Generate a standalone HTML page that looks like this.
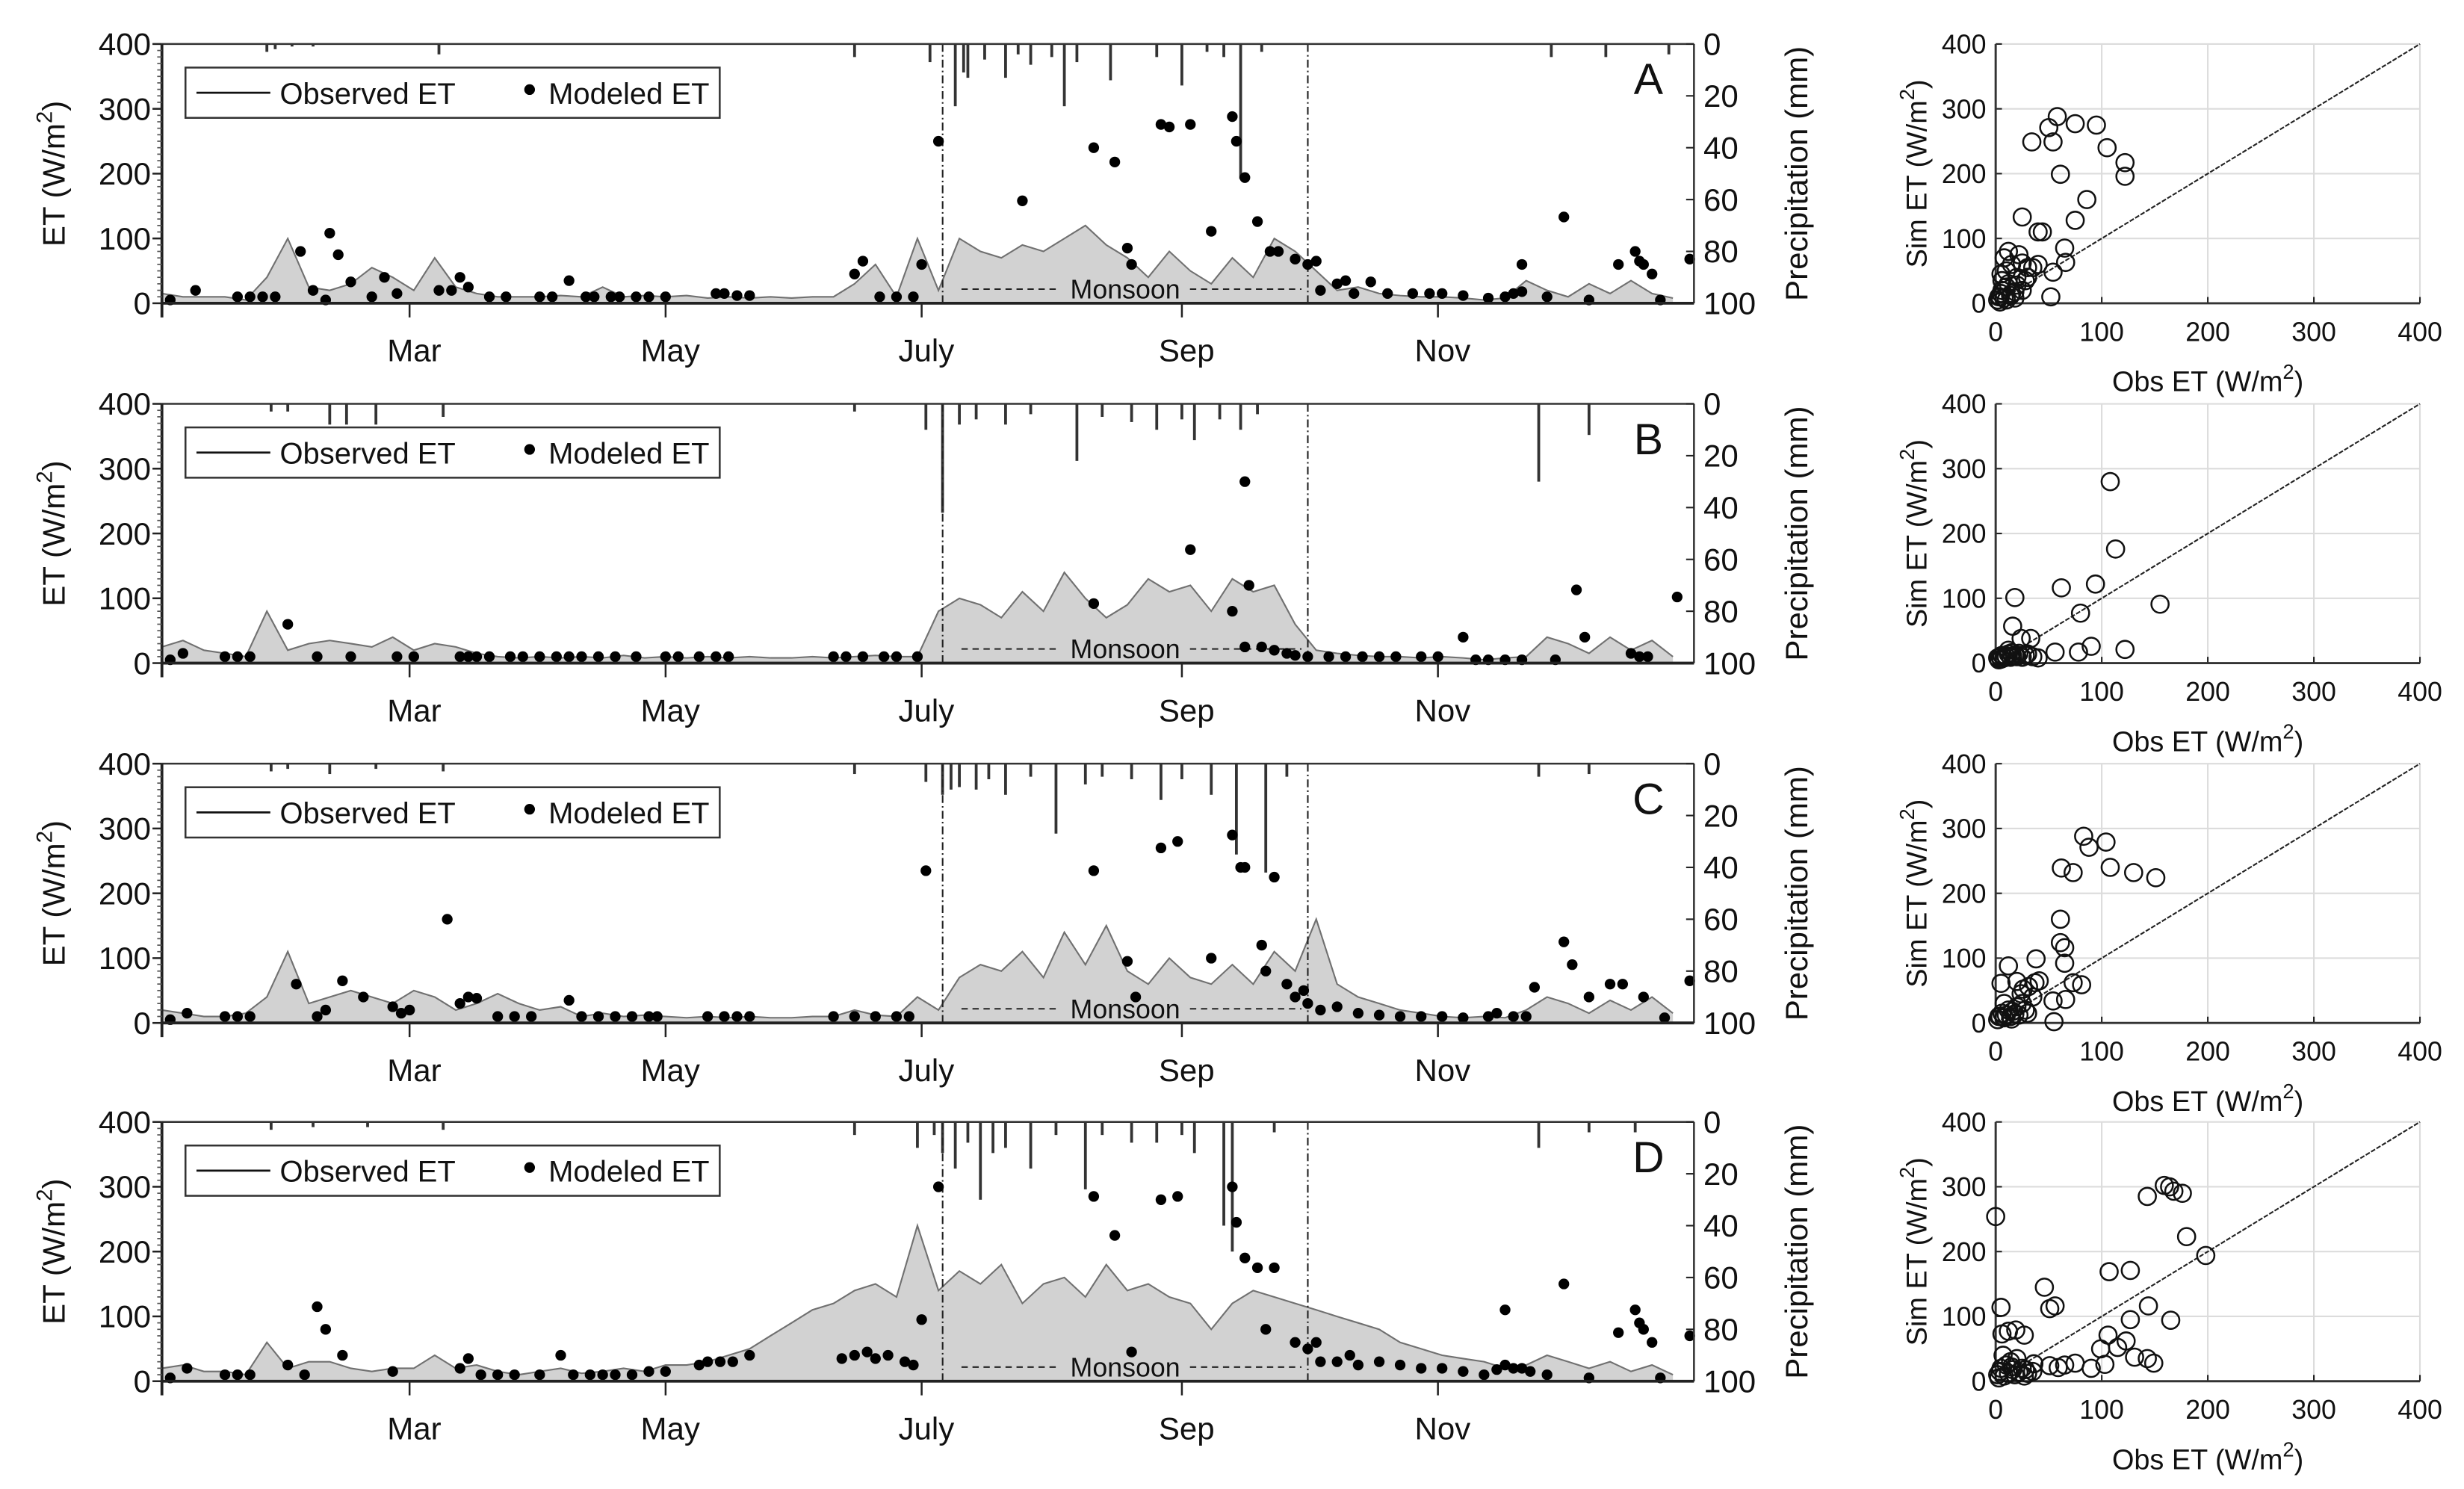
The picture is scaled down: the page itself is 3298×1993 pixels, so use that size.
<!DOCTYPE html>
<html><head><meta charset="utf-8"><title>ET panels</title>
<style>
html,body{margin:0;padding:0;background:#fff;}
svg{display:block;font-family:"Liberation Sans",Arial,sans-serif;}
</style></head>
<body>
<svg id="fig" xmlns="http://www.w3.org/2000/svg" width="3298" height="1993" viewBox="0 0 1568 947.6"></svg>
<script>
// ---------- DATA ----------
const panelLetters = ["A","B","C","D"];
const yTicksET = [0,100,200,300,400];
const yTicksP = [0,20,40,60,80,100];
const monthLabels = ["Mar","May","July","Sep","Nov"];
const monthDays = [59,120,181,243,304];
const scTicks = [0,100,200,300,400];
const obsStepDays = 5;

const OBS_A = [15,10,10,10,5,40,100,25,20,30,55,40,20,70,25,15,10,10,10,12,10,25,10,12,10,12,8,10,8,10,8,10,10,30,60,10,100,20,100,80,70,90,80,100,120,90,70,40,80,50,30,70,40,100,80,50,20,25,15,12,10,10,8,5,8,35,20,10,30,15,35,15,8];
const OBS_B = [25,35,20,15,10,80,20,30,35,30,25,40,20,30,25,15,10,8,10,8,10,8,12,8,10,8,10,8,10,8,8,10,8,10,12,10,10,80,100,90,70,110,80,140,100,70,90,130,110,120,80,130,110,120,60,20,15,12,10,10,8,10,8,5,8,10,40,30,15,40,20,35,10];
const OBS_C = [20,15,10,10,15,40,110,30,40,50,40,30,50,40,20,30,45,30,20,25,10,15,10,12,10,8,10,8,10,8,8,10,10,20,12,10,40,20,70,90,80,110,70,140,90,150,80,60,100,70,60,90,60,110,80,160,60,40,30,20,15,10,8,10,8,20,40,30,15,35,20,40,15];
const OBS_D = [20,25,15,15,10,60,20,30,30,20,15,20,20,40,20,25,15,10,15,20,12,15,20,15,25,25,30,40,50,70,90,110,120,140,150,130,240,140,170,150,180,120,150,160,130,180,140,150,130,120,80,120,140,130,120,110,100,90,80,60,50,40,35,30,20,25,40,30,20,30,15,25,10];

const MOD_A_DAYS = [2,8,18,21,24,27,33,40,42,45,39,36,50,53,56,66,69,71,73,78,82,90,93,97,101,103,107,109,113,116,120,132,134,137,140,165,167,171,175,179,181,185,205,222,227,238,240,245,255,256,258,261,250,230,231,264,266,270,273,275,276,280,282,288,284,292,298,302,305,310,316,320,322,324,324,334,330,340,347,351,352,353,355,357,364];
const MOD_A_VALS = [5,20,10,10,10,10,80,108,75,33,5,20,10,40,15,20,20,40,25,10,10,10,10,35,10,10,10,10,10,10,10,15,15,12,12,45,65,10,10,10,60,250,158,240,218,276,272,276,288,250,194,126,111,85,60,80,80,68,60,65,20,30,35,33,15,15,15,15,15,12,8,10,15,18,60,133,10,5,60,80,65,60,45,5,68];
const MOD_B_DAYS = [2,5,15,18,21,30,37,45,56,60,71,73,75,78,83,86,90,94,97,100,104,108,113,120,123,128,132,135,160,163,167,172,175,180,222,245,255,258,259,258,262,265,268,270,273,278,282,286,290,294,300,304,310,313,316,320,324,332,337,339,350,352,354,361];
const MOD_B_VALS = [5,15,10,10,10,60,10,10,10,10,10,10,10,10,10,10,10,10,10,10,10,10,10,10,10,10,10,10,10,10,10,10,10,10,92,175,80,280,120,25,25,20,15,12,10,10,10,10,10,10,10,10,40,5,5,5,5,5,113,40,15,10,10,102];
const MOD_C_DAYS = [2,6,15,18,21,32,37,39,43,48,55,57,59,68,71,73,75,80,84,88,97,100,104,108,112,116,118,130,134,137,140,160,165,170,175,178,182,222,230,232,238,242,250,255,257,258,262,265,263,268,270,272,273,276,280,285,290,295,300,305,310,316,318,322,325,327,334,336,340,345,348,353,358,364];
const MOD_C_VALS = [5,15,10,10,10,60,10,20,65,40,25,15,20,160,30,40,38,10,10,10,35,10,10,10,10,10,10,10,10,10,10,10,10,10,10,10,235,235,95,40,270,280,100,290,240,240,120,225,80,60,40,50,30,20,25,15,12,10,10,10,8,10,15,10,10,55,125,90,40,60,60,40,8,65];
const MOD_D_DAYS = [2,6,15,18,21,30,34,37,39,43,55,71,73,76,80,84,90,95,98,102,105,108,112,116,120,128,130,133,136,140,162,165,168,170,173,177,179,181,185,222,227,231,238,242,255,256,258,261,263,265,270,273,275,276,280,283,285,290,295,300,305,310,315,318,320,322,324,326,320,334,330,340,347,351,352,353,355,357,364];
const MOD_D_VALS = [5,20,10,10,10,25,10,115,80,40,15,20,35,10,10,10,10,40,10,10,10,10,10,15,15,25,30,30,30,40,35,40,45,35,40,30,25,95,300,285,225,45,280,285,300,245,190,175,80,175,60,50,60,30,30,40,25,30,25,20,20,15,10,18,25,20,20,15,110,150,10,5,75,110,90,80,60,5,70];

const PRE_A_DAYS = [25,27,31,36,66,165,183,189,191,192,196,201,204,207,212,215,218,226,237,243,249,253,257,262,331,344,359];
const PRE_A_MM = [3,2,1,1,4,5,7,24,11,13,6,13,4,8,5,24,7,14,5,16,3,5,52,3,5,5,4];
const PRE_B_DAYS = [26,30,40,44,51,67,165,182,186,190,194,201,207,218,224,231,237,243,246,252,257,261,328,340];
const PRE_B_MM = [3,3,8,8,8,5,3,10,42,8,6,8,4,22,5,7,10,6,14,6,10,4,30,12];
const PRE_C_DAYS = [26,30,40,51,67,165,182,186,188,190,194,197,201,207,213,220,224,231,238,243,250,256,263,268,328,340];
const PRE_C_MM = [3,2,4,2,3,4,7,12,10,9,10,6,12,5,27,8,5,6,14,6,12,35,42,5,5,4];
const PRE_D_DAYS = [26,36,49,67,165,180,184,186,189,192,195,198,201,207,213,220,224,231,237,243,246,253,255,265,328,340,351];
const PRE_D_MM = [3,2,2,3,5,10,5,12,18,8,30,12,10,18,5,26,5,8,8,5,12,40,50,4,10,4,4];

const SC_A_OBS = [58,50,75,95,34,54,105,122,122,61,86,75,25,40,44,65,66,54,52,2,4,5,6,8,10,12,14,15,18,20,22,25,28,30,8,12,5,3,10,15,20,25,35,40,10,6,18,4,30];
const SC_A_SIM = [288,271,277,275,249,249,240,217,196,199,160,128,133,110,110,85,63,48,10,5,10,15,20,8,25,30,12,60,18,40,75,20,35,55,70,80,45,10,5,15,28,62,55,60,50,35,8,2,40];
const SC_B_OBS = [108,113,94,62,18,155,80,16,90,122,78,56,24,33,2,4,6,8,10,12,14,16,18,20,22,25,28,30,35,40,5,9,15,3,12];
const SC_B_SIM = [280,176,122,116,101,91,77,57,26,21,17,17,38,38,8,10,12,8,10,14,9,11,12,10,15,9,12,14,10,8,6,12,16,5,20];
const SC_C_OBS = [83,88,104,62,73,108,130,151,61,61,65,65,38,12,73,81,5,20,26,31,37,41,54,66,55,2,4,6,8,10,12,14,16,18,20,22,25,28,30,35,8,15,3,24];
const SC_C_SIM = [288,271,279,239,232,240,232,224,160,124,116,92,99,88,62,59,61,64,52,56,62,65,34,36,2,5,10,15,8,12,20,10,18,14,25,12,30,20,15,40,30,6,10,45];
const SC_D_OBS = [0,143,159,164,168,176,180,198,107,127,46,5,51,56,144,127,165,106,123,99,115,131,143,149,103,90,75,65,59,51,27,36,6,12,19,27,2,4,5,8,10,12,14,16,18,20,22,25,30,35,7,3,15,28];
const SC_D_SIM = [254,285,302,300,293,290,223,194,169,171,145,114,112,116,116,95,94,71,62,50,52,37,35,28,26,20,28,25,21,24,8,27,73,77,79,71,10,15,20,8,25,12,30,18,10,35,14,20,12,15,40,5,22,18];

const OBS = [OBS_A,OBS_B,OBS_C,OBS_D];
const MOD_DAYS = [MOD_A_DAYS,MOD_B_DAYS,MOD_C_DAYS,MOD_D_DAYS];
const MOD_VALS = [MOD_A_VALS,MOD_B_VALS,MOD_C_VALS,MOD_D_VALS];
const PRE_DAYS = [PRE_A_DAYS,PRE_B_DAYS,PRE_C_DAYS,PRE_D_DAYS];
const PRE_MM = [PRE_A_MM,PRE_B_MM,PRE_C_MM,PRE_D_MM];
const SC_OBS = [SC_A_OBS,SC_B_OBS,SC_C_OBS,SC_D_OBS];
const SC_SIM = [SC_A_SIM,SC_B_SIM,SC_C_SIM,SC_D_SIM];
const monsoonStart = 186, monsoonEnd = 273;

// ---------- LAYOUT ----------
const NS = "http://www.w3.org/2000/svg";
const svg = document.getElementById("fig");
const L = 103, R = 1078, H = 165;
const tops = [28,257,486,714];
const SL = 1270, SR = 1540;
function xDay(d){ return L + d*(R-L)/365; }
function mk(tag, attrs, parent, text){
  const e = document.createElementNS(NS, tag);
  for (const k in attrs) e.setAttribute(k, attrs[k]);
  if (text !== undefined) e.textContent = text;
  (parent||svg).appendChild(e);
  return e;
}

tops.forEach((top, p) => {
  const bot = top + H;
  const yET = v => bot - v/400*H;
  const yP = mm => top + mm/100*H;
  const g = mk("g", {});
  
  

  const obs = OBS[p];
  let d = "M" + xDay(0) + "," + bot;
  let dl = "";
  obs.forEach((v,i)=>{ const x = xDay(Math.min(i*obsStepDays,365)); d += " L" + x.toFixed(1) + "," + yET(v).toFixed(1); dl += (i?" L":"M") + x.toFixed(1) + "," + yET(v).toFixed(1); });
  d += " L" + xDay(Math.min((obs.length-1)*obsStepDays,365)).toFixed(1) + "," + bot + " Z";
  const area = mk("path", {d:d, fill:"#d2d2d2", stroke:"none"}, g);
  
  
  const line = mk("path", {d:dl, fill:"none", stroke:"#707070", "stroke-width":1}, g);
  
  

  PRE_DAYS[p].forEach((dd,i)=>{
    const b = mk("rect", {x:(xDay(dd)-0.9).toFixed(1), y:top, width:1.8, height:(yP(PRE_MM[p][i])-top).toFixed(1), fill:"#333"}, g);
    
    
  });

  [monsoonStart, monsoonEnd].forEach(md=>{
    const ml = mk("line", {x1:xDay(md), x2:xDay(md), y1:top, y2:bot, stroke:"#222", "stroke-width":1, "stroke-dasharray":"5,2,1,2"}, g);
    
    
  });
  const my = bot - 9;
  mk("line", {x1:xDay(monsoonStart)+12, x2:xDay(monsoonStart)+74, y1:my, y2:my, stroke:"#222", "stroke-width":1, "stroke-dasharray":"4,3"}, g);
  mk("line", {x1:xDay(monsoonEnd)-75, x2:xDay(monsoonEnd)-4, y1:my, y2:my, stroke:"#222", "stroke-width":1, "stroke-dasharray":"4,3"}, g);
  const mt = mk("text", {x:(xDay(monsoonStart)+xDay(monsoonEnd))/2, y:my+6, "font-size":17, "text-anchor":"middle", fill:"#111"}, g, "Monsoon");
  
  

  MOD_DAYS[p].forEach((dd,i)=>{
    const c = mk("circle", {cx:xDay(dd).toFixed(1), cy:yET(MOD_VALS[p][i]).toFixed(1), r:3.4, fill:"#000"}, g);
    
    
  });

  mk("line", {x1:L, x2:R, y1:top, y2:top, stroke:"#333", "stroke-width":1.2}, g);
  mk("line", {x1:R, x2:R, y1:top, y2:bot, stroke:"#333", "stroke-width":1.2}, g);
  mk("line", {x1:L, x2:R, y1:bot, y2:bot, stroke:"#222", "stroke-width":1.8}, g);
  mk("line", {x1:L, x2:L, y1:top, y2:bot+9, stroke:"#222", "stroke-width":1.8}, g);
  for (let v=0; v<=400; v+=10){
    mk("line", {x1:L-3, x2:L, y1:yET(v), y2:yET(v), stroke:"#555", "stroke-width":0.8}, g);
  }
  yTicksET.forEach(v=>{
    mk("line", {x1:L-6, x2:L, y1:yET(v), y2:yET(v), stroke:"#222", "stroke-width":1.2}, g);
    const t = mk("text", {x:L-7, y:yET(v)+7, "font-size":20, "text-anchor":"end", fill:"#111"}, g, String(v));
    
    
  });
  yTicksP.forEach(v=>{
    mk("line", {x1:R-5, x2:R, y1:yP(v), y2:yP(v), stroke:"#222", "stroke-width":1}, g);
    const t = mk("text", {x:R+6, y:yP(v)+7, "font-size":20, "text-anchor":"start", fill:"#111"}, g, String(v));
    
    
  });
  monthDays.forEach((md,i)=>{
    mk("line", {x1:xDay(md), x2:xDay(md), y1:bot, y2:bot+9, stroke:"#222", "stroke-width":1.2}, g);
    const t = mk("text", {x:xDay(md)+3, y:bot+37, "font-size":20, "text-anchor":"middle", fill:"#111"}, g, monthLabels[i]);
    
    
  });
  const yl = mk("text", {x:0, y:0, "font-size":20, "text-anchor":"middle", fill:"#111", transform:"translate(41,"+(top+H/2)+") rotate(-90)"}, g);
  
  
  yl.innerHTML = 'ET (W/m<tspan dy="-8" font-size="14">2</tspan><tspan dy="8">)</tspan>';
  const pl = mk("text", {x:0, y:0, "font-size":20, "text-anchor":"middle", fill:"#111", transform:"translate(1150,"+(top+H/2)+") rotate(-90)"}, g, "Precipitation (mm)");
  
  
  const pt = mk("text", {x:1049, y:top+32, "font-size":28, "text-anchor":"middle", fill:"#111"}, g, panelLetters[p]);
  
  
  const lg = mk("g", {}, g);
  
  
  mk("rect", {x:118, y:top+15, width:340, height:32, fill:"#fff", stroke:"#333", "stroke-width":1.2}, lg);
  mk("line", {x1:125, x2:172, y1:top+31, y2:top+31, stroke:"#111", "stroke-width":1.3}, lg);
  mk("text", {x:178, y:top+38, "font-size":19, fill:"#111"}, lg, "Observed ET");
  mk("circle", {cx:337, cy:top+29, r:3.4, fill:"#000"}, lg);
  mk("text", {x:349, y:top+38, "font-size":19, fill:"#111"}, lg, "Modeled ET");

  // ---------- scatter ----------
  const sg = mk("g", {});
  
  
  const sx = o => SL + o/400*(SR-SL);
  const sy = v => bot - v/400*H;
  scTicks.forEach(v=>{
    if (v>0){
      mk("line", {x1:sx(v), x2:sx(v), y1:top, y2:bot, stroke:"#dcdcdc", "stroke-width":1}, sg);
      mk("line", {x1:SL, x2:SR, y1:sy(v), y2:sy(v), stroke:"#dcdcdc", "stroke-width":1}, sg);
    }
    mk("line", {x1:sx(v), x2:sx(v), y1:bot-4, y2:bot, stroke:"#222", "stroke-width":1}, sg);
    mk("line", {x1:SL, x2:SL+4, y1:sy(v), y2:sy(v), stroke:"#222", "stroke-width":1}, sg);
    const tx = mk("text", {x:sx(v), y:bot+24, "font-size":17, "text-anchor":"middle", fill:"#111"}, sg, String(v));
    
    
    const ty = mk("text", {x:SL-6, y:sy(v)+6, "font-size":17, "text-anchor":"end", fill:"#111"}, sg, String(v));
    
    
  });
  mk("line", {x1:SL, x2:SR, y1:bot, y2:bot, stroke:"#333", "stroke-width":1.4}, sg);
  mk("line", {x1:SL, x2:SL, y1:top, y2:bot, stroke:"#333", "stroke-width":1.4}, sg);
  const one = mk("line", {x1:sx(0), y1:sy(0), x2:sx(400), y2:sy(400), stroke:"#222", "stroke-width":1, "stroke-dasharray":"3,1"}, sg);
  
  
  SC_OBS[p].forEach((o,i)=>{
    const c = mk("circle", {cx:sx(o).toFixed(1), cy:sy(SC_SIM[p][i]).toFixed(1), r:5.5, fill:"none", stroke:"#111", "stroke-width":1.2}, sg);
    
    
  });
  const ox = mk("text", {x:(SL+SR)/2, y:bot+56, "font-size":18, "text-anchor":"middle", fill:"#111"}, sg);
  
  
  ox.innerHTML = 'Obs ET (W/m<tspan dy="-8" font-size="13">2</tspan><tspan dy="8">)</tspan>';
  const oy = mk("text", {x:0, y:0, "font-size":18, "text-anchor":"middle", fill:"#111", transform:"translate(1226,"+(top+H/2)+") rotate(-90)"}, sg);
  
  
  oy.innerHTML = 'Sim ET (W/m<tspan dy="-8" font-size="13">2</tspan><tspan dy="8">)</tspan>';
});
</script>
</body></html>
